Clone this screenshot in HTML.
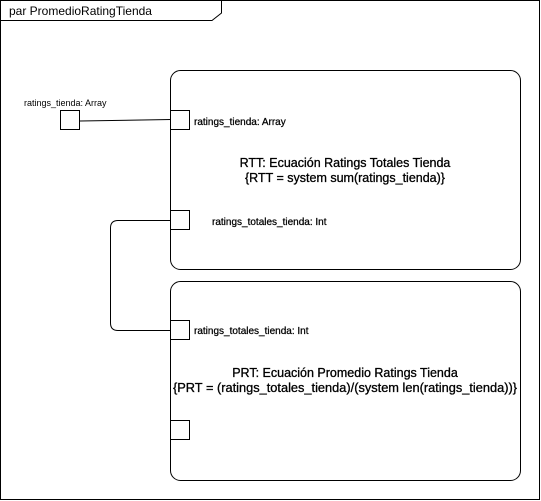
<!DOCTYPE html>
<html><head><meta charset="utf-8"><style>body{margin:0;background:#fff}svg{display:block}</style></head><body>
<svg width="541" height="501" viewBox="0 0 541 501" xmlns="http://www.w3.org/2000/svg" font-family="Liberation Sans, sans-serif">
<rect x="0.5" y="0.5" width="539" height="499" fill="#fff" stroke="#000"/>
<path d="M0.5 20.5 H212 L221.5 13 V0.5" fill="none" stroke="#000"/>
<text x="9" y="15" font-size="12" fill="#000">par PromedioRatingTienda</text>
<rect x="170.5" y="70.5" width="350" height="199" rx="10" fill="#fff" stroke="#000"/>
<rect x="170.5" y="281.5" width="350" height="199" rx="10" fill="#fff" stroke="#000"/>
<rect x="60.5" y="110.5" width="19" height="19" fill="#fff" stroke="#000"/>
<text x="24" y="106" font-size="9">ratings_tienda: Array</text>
<path d="M80 121 L171 119.5" stroke="#000" fill="none"/>
<rect x="170.5" y="110.5" width="19" height="19" fill="#fff" stroke="#000"/>
<text x="194" y="125" font-size="10" fill="#000" stroke="#000" stroke-width="0.25">ratings_tienda: Array</text>
<text x="345" y="167" font-size="12.5" text-anchor="middle" stroke="#000" stroke-width="0.3">RTT: Ecuación Ratings Totales Tienda</text>
<text x="345" y="182" font-size="12.5" text-anchor="middle" stroke="#000" stroke-width="0.3">{RTT = system sum(ratings_tienda)}</text>
<rect x="170.5" y="210.5" width="19" height="19" fill="#fff" stroke="#000"/>
<text x="212" y="225" font-size="10" fill="#000" stroke="#000" stroke-width="0.25">ratings_totales_tienda: Int</text>
<path d="M170 220.5 H118 Q110.5 220.5 110.5 228 V323 Q110.5 330.5 118 330.5 H170" fill="none" stroke="#000"/>
<rect x="170.5" y="320.5" width="19" height="19" fill="#fff" stroke="#000"/>
<text x="194" y="334" font-size="10" fill="#000" stroke="#000" stroke-width="0.25">ratings_totales_tienda: Int</text>
<text x="345" y="377" font-size="12.5" text-anchor="middle" stroke="#000" stroke-width="0.3">PRT: Ecuación Promedio Ratings Tienda</text>
<text x="345" y="392" font-size="12.5" text-anchor="middle" stroke="#000" stroke-width="0.3" textLength="344" lengthAdjust="spacingAndGlyphs">{PRT = (ratings_totales_tienda)/(system len(ratings_tienda))}</text>
<rect x="170.5" y="420.5" width="19" height="19" fill="#fff" stroke="#000"/>
</svg>
</body></html>
